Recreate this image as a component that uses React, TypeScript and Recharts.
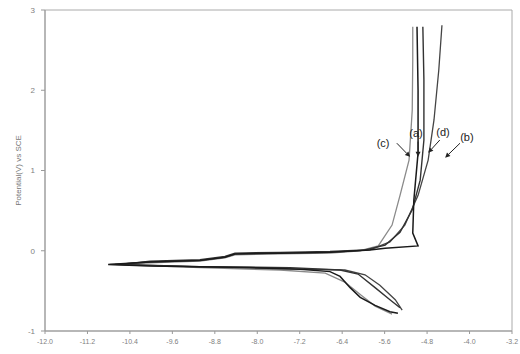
import React from 'react';
import { LineChart, Line, XAxis, YAxis, ReferenceArea, ReferenceLine, ReferenceDot } from 'recharts';

// log current density (x) and potential V vs SCE (y)
const curveA_x = [-5.35, -5.50, -5.78, -6.06, -6.25, -6.44, -6.63, -7.19, -8.14, -9.08, -10.02, -10.81, -10.02, -9.08, -8.61, -8.42, -7.57, -6.63, -5.88, -5.59, -4.97, -5.07, -5.05, -4.97, -4.97, -4.99];
const curveA_y = [-0.78, -0.76, -0.68, -0.58, -0.46, -0.32, -0.26, -0.23, -0.21, -0.20, -0.19, -0.17, -0.14, -0.12, -0.08, -0.04, -0.03, -0.02, 0.01, 0.03, 0.06, 0.22, 0.63, 1.22, 2.0, 2.79];

const curveB_x = [-5.27, -5.40, -5.69, -5.97, -6.35, -7.19, -9.08, -10.68, -10.02, -9.08, -8.61, -8.42, -7.57, -6.63, -5.88, -5.50, -5.22, -4.97, -4.78, -4.67, -4.58, -4.52];
const curveB_y = [-0.74, -0.61, -0.43, -0.30, -0.24, -0.23, -0.20, -0.17, -0.14, -0.12, -0.08, -0.04, -0.03, -0.02, 0.01, 0.11, 0.32, 0.69, 1.13, 1.63, 2.25, 2.81];

const curveC_x = [-5.46, -5.78, -6.03, -6.35, -6.72, -7.57, -9.08, -10.78, -10.02, -9.08, -8.61, -8.42, -7.57, -6.63, -6.06, -5.72, -5.46, -5.31, -5.14, -5.08, -5.07, -5.07];
const curveC_y = [-0.79, -0.69, -0.56, -0.39, -0.28, -0.24, -0.21, -0.17, -0.15, -0.13, -0.09, -0.05, -0.04, -0.03, 0.0, 0.06, 0.32, 0.69, 1.13, 1.75, 2.38, 2.79];

const curveD_x = [-5.31, -5.50, -5.78, -6.10, -6.44, -7.38, -9.08, -10.59, -10.02, -9.08, -8.61, -8.42, -7.57, -6.63, -5.97, -5.59, -5.31, -5.08, -4.93, -4.86, -4.86, -4.88];
const curveD_y = [-0.71, -0.61, -0.46, -0.29, -0.24, -0.21, -0.20, -0.17, -0.13, -0.11, -0.07, -0.03, -0.02, -0.01, 0.01, 0.07, 0.23, 0.51, 0.88, 1.38, 2.13, 2.79];

const xTicks = [-12.0, -11.2, -10.4, -9.6, -8.8, -8.0, -7.2, -6.4, -5.6, -4.8, -4.0, -3.2];
const yTicks = [-1, 0, 1, 2, 3];

const labelNames = ['(a)', '(b)', '(c)', '(d)'];
const labelX = [-5.01, -4.05, -5.63, -4.50];
const labelY = [1.47, 1.42, 1.34, 1.48];
const arrowFromX = [-4.97, -4.18, -5.37, -4.56];
const arrowFromY = [1.36, 1.34, 1.34, 1.38];
const arrowToX = [-4.97, -4.46, -5.12, -4.78];
const arrowToY = [1.17, 1.16, 1.17, 1.22];

const zip = (xs: number[], ys: number[]) => xs.map((x, i) => ({ x, y: ys[i] }));
const dataA = zip(curveA_x, curveA_y);
const dataB = zip(curveB_x, curveB_y);
const dataC = zip(curveC_x, curveC_y);
const dataD = zip(curveD_x, curveD_y);

const ArrowShape = (props: any) => {
  let x1 = props.x1, y1 = props.y1, x2 = props.x2, y2 = props.y2;
  if (x1 === undefined && props.points) {
    x1 = props.points[0].x; y1 = props.points[0].y; x2 = props.points[1].x; y2 = props.points[1].y;
  }
  if ([x1, y1, x2, y2].some((v) => typeof v !== 'number' || isNaN(v))) return <g />;
  const ang = Math.atan2(y2 - y1, x2 - x1);
  const len = 5, w = 2.5;
  const bx = x2 - len * Math.cos(ang), by = y2 - len * Math.sin(ang);
  const p1x = bx + w * Math.sin(ang), p1y = by - w * Math.cos(ang);
  const p2x = bx - w * Math.sin(ang), p2y = by + w * Math.cos(ang);
  return (
    <g>
      <line x1={x1} y1={y1} x2={bx} y2={by} stroke="#222" strokeWidth={1} />
      <polygon points={`${x2},${y2} ${p1x},${p1y} ${p2x},${p2y}`} fill="#222" />
    </g>
  );
};

const font = 'Liberation Sans, Arial, sans-serif';

export default function App() {
  return (
    <div style={{ position: 'absolute', left: 0, top: 0, background: '#fff' }}>
      <LineChart width={520} height={354} margin={{ top: 10, right: 8, left: 0, bottom: 0 }}>
        <XAxis
          dataKey="x"
          type="number"
          domain={[-12, -3.2]}
          ticks={xTicks}
          interval={0}
          allowDataOverflow
          height={23}
          tickFormatter={(v: number) => v.toFixed(1)}
          tick={{ fontSize: 7, fill: '#808080', fontFamily: font }}
          tickLine={{ stroke: '#999' }}
          tickSize={3}
          tickMargin={5}
          axisLine={{ stroke: '#999' }}
        />
        <YAxis
          dataKey="y"
          type="number"
          domain={[-1, 3]}
          ticks={yTicks}
          interval={0}
          allowDataOverflow
          width={45}
          tick={{ fontSize: 8, fill: '#808080', fontFamily: font }}
          tickLine={{ stroke: '#999' }}
          tickSize={4}
          tickMargin={6}
          axisLine={{ stroke: '#999' }}
          label={{
            value: 'Potential(V) vs SCE',
            angle: -90,
            position: 'insideLeft',
            offset: 18,
            style: { fontSize: 8, fill: '#777', fontFamily: font, textAnchor: 'middle' },
          }}
        />
        <ReferenceArea x1={-12} x2={-3.2} y1={-1} y2={3} fill="none" stroke="#aaa" strokeWidth={1} ifOverflow="visible" />
        <Line data={dataC} dataKey="y" type="linear" stroke="#8a8a8a" strokeWidth={1.3} dot={false} isAnimationActive={false} />
        <Line data={dataB} dataKey="y" type="linear" stroke="#444" strokeWidth={1.3} dot={false} isAnimationActive={false} />
        <Line data={dataD} dataKey="y" type="linear" stroke="#333" strokeWidth={1.4} dot={false} isAnimationActive={false} />
        <Line data={dataA} dataKey="y" type="linear" stroke="#1a1a1a" strokeWidth={1.5} dot={false} isAnimationActive={false} />
        {labelNames.map((n, i) => (
          <ReferenceLine
            key={'arr' + n}
            segment={[{ x: arrowFromX[i], y: arrowFromY[i] }, { x: arrowToX[i], y: arrowToY[i] }]}
            shape={ArrowShape}
            ifOverflow="visible"
          />
        ))}
        {labelNames.map((n, i) => (
          <ReferenceDot
            key={'lab' + n}
            x={labelX[i]}
            y={labelY[i]}
            r={1}
            fill="none"
            stroke="none"
            ifOverflow="visible"
            label={{ value: n, position: 'center', style: { fontSize: 11, fill: '#222', fontFamily: font } }}
          />
        ))}
      </LineChart>
    </div>
  );
}
